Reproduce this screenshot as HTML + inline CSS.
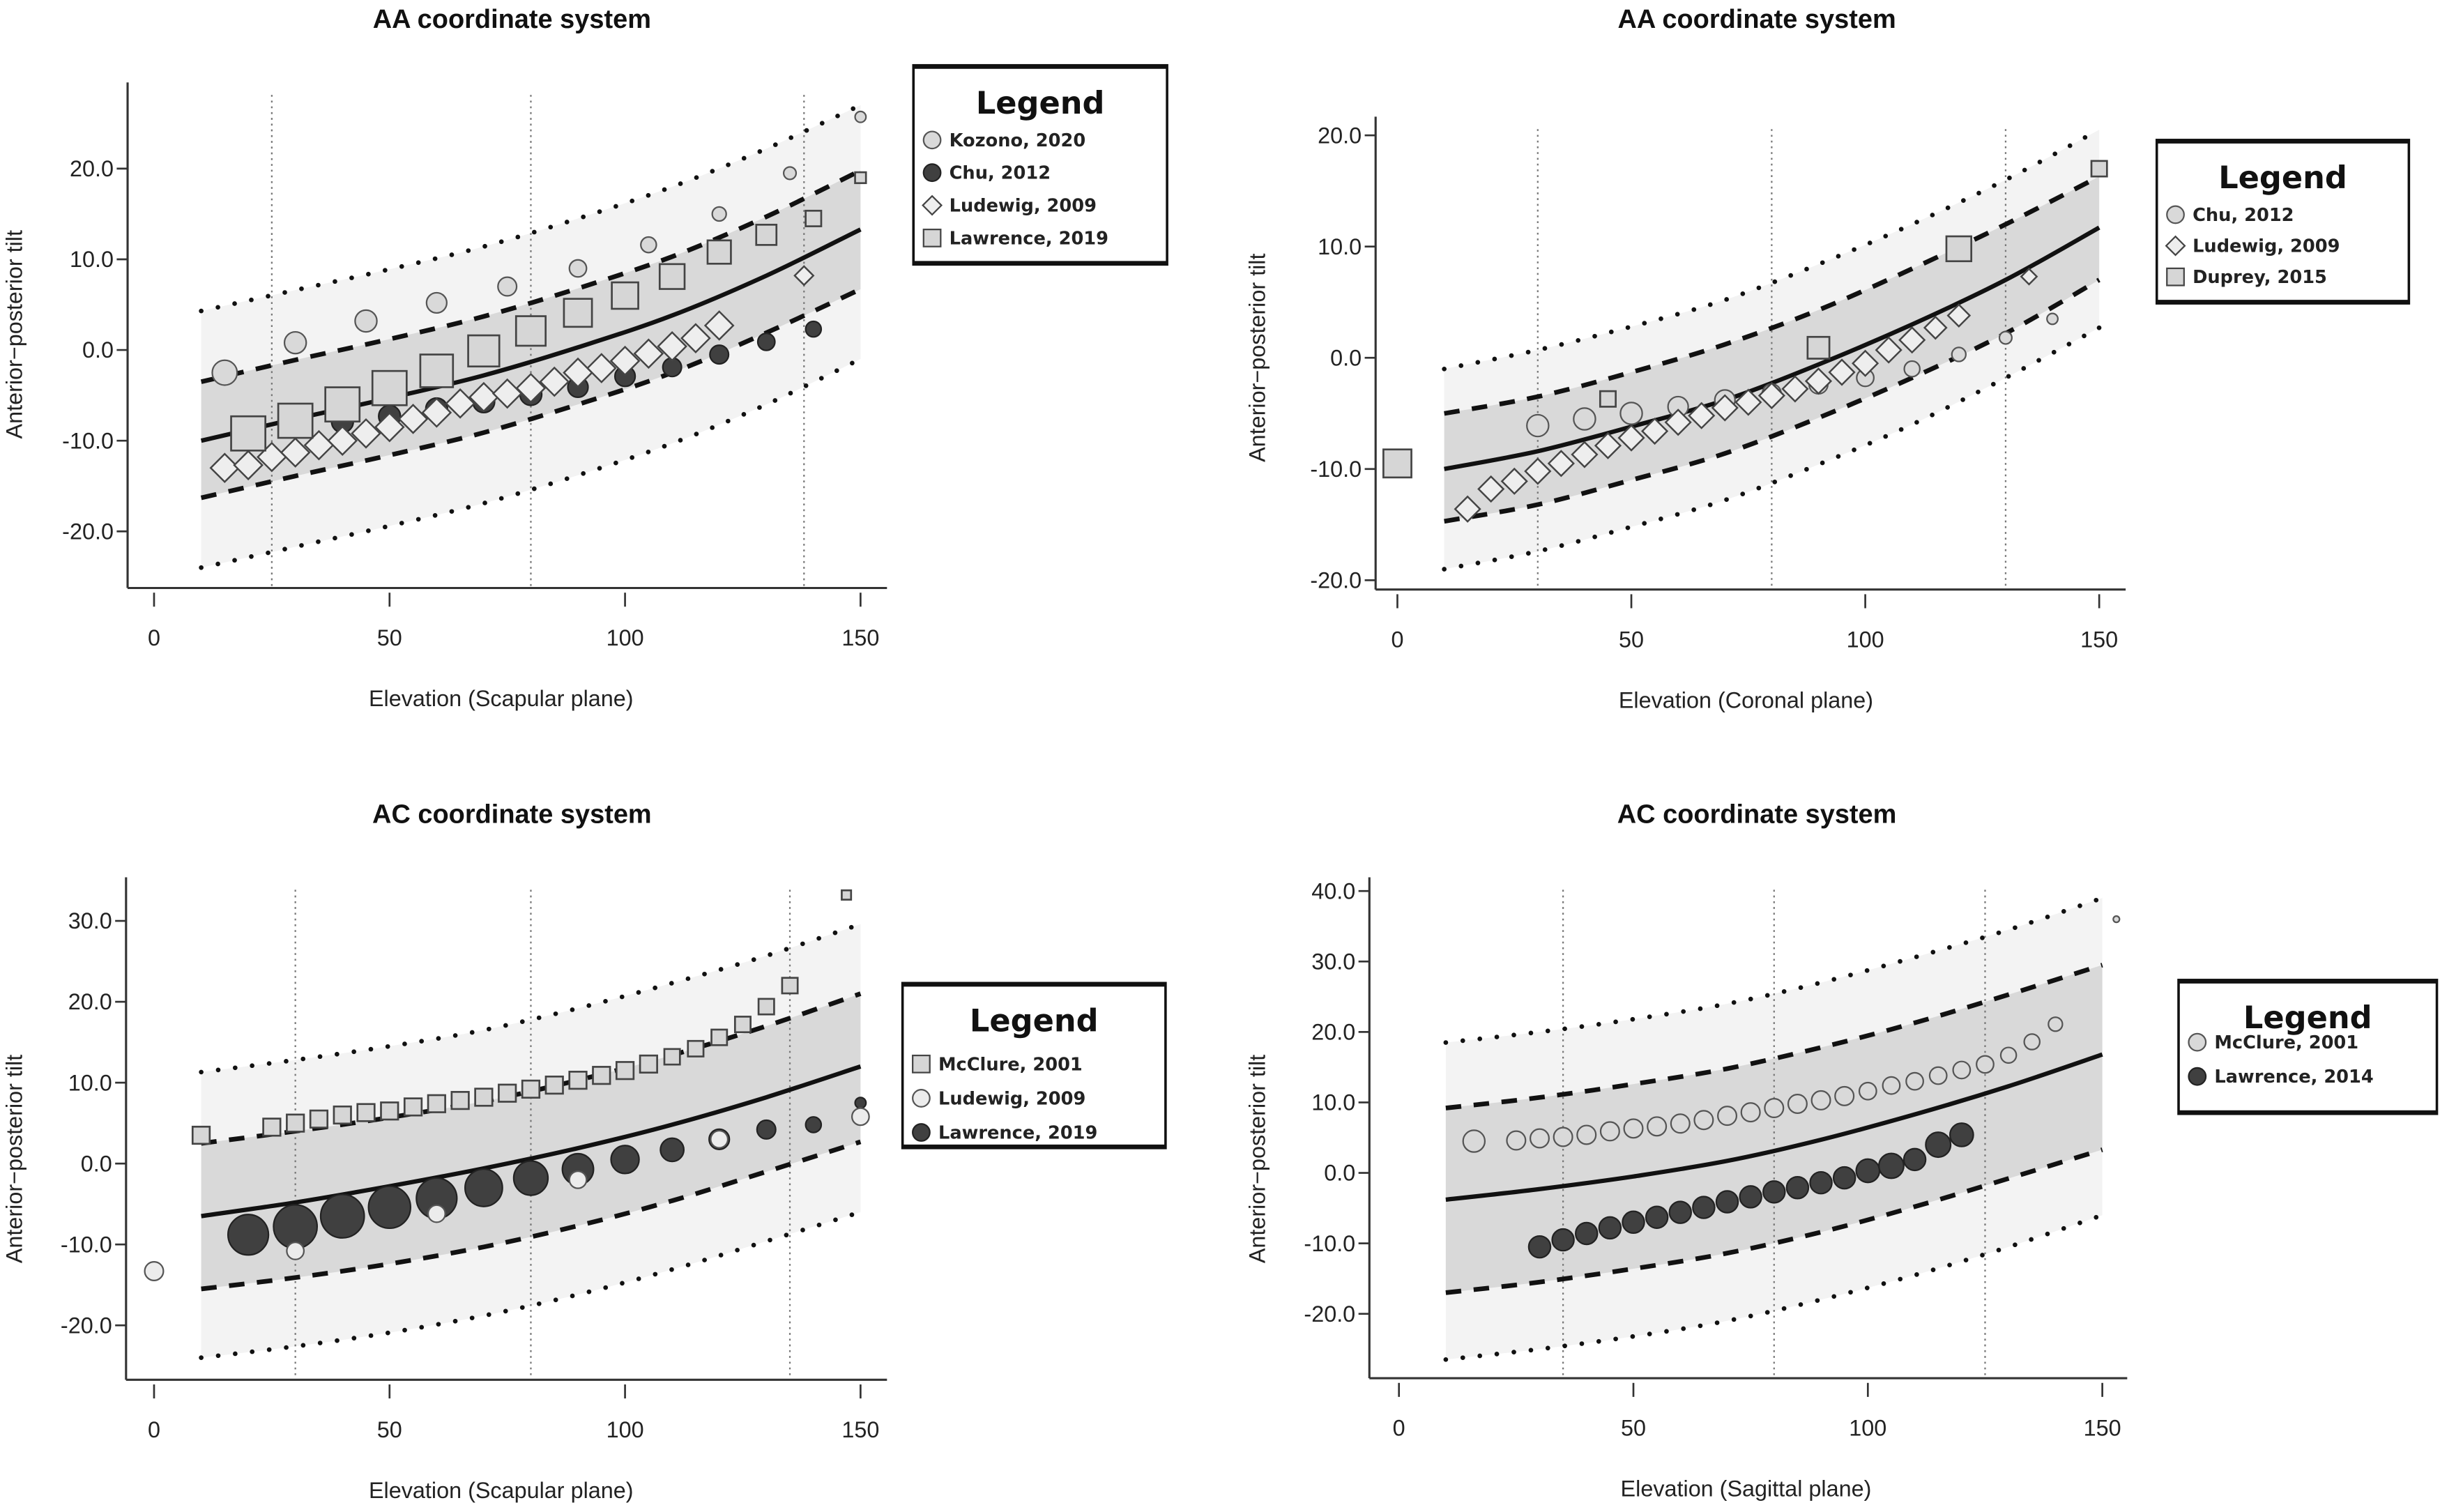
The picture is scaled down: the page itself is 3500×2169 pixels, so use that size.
<!DOCTYPE html>
<html><head><meta charset="utf-8"><style>
html,body{margin:0;padding:0;background:#fff;}
svg{display:block;font-family:"Liberation Sans",sans-serif;}
.t{font-size:14.5px;fill:#222;}
.ttl{font-size:17px;font-weight:bold;fill:#111;}
.lg{font-size:11.5px;font-weight:bold;fill:#222;font-family:"DejaVu Sans",sans-serif;}
.lgt{font-size:20px;font-weight:bold;fill:#111;font-family:"DejaVu Sans",sans-serif;}
</style></head><body>
<svg id="fig" width="3500" height="2169" viewBox="0 0 1568 972" preserveAspectRatio="none" xmlns="http://www.w3.org/2000/svg"></svg>
<script>
// Shared band sample x positions
const bandX = [10,30,50,70,90,110,130,150];

// Panel 1: AA scapular
const p1Mean = [-10,-7.6,-5.3,-2.8,0.3,3.8,8.2,13.3];
const p1DashUp = [-3.5,-1.1,1.2,3.7,6.8,10.3,14.7,19.8];
const p1DashLo = [-16.3,-13.9,-11.6,-9.1,-6,-2.5,1.9,6.7];
const p1DotUp = [4.3,6.6,8.9,11.4,14.5,18,22.2,27];
const p1DotLo = [-24,-21.7,-19.4,-16.9,-13.8,-10.3,-6,-1];
const p1VLines = [25,80,138];
const p1KozX = [15,30,45,60,75,90,105,120,135,150];
const p1KozY = [-2.5,0.8,3.2,5.2,7,9,11.6,15,19.5,25.7];
const p1KozR = [8,7,7,6.5,6,5.5,5,4.5,4,3.5];
const p1ChuX = [30,40,50,60,70,80,90,100,110,120,130,140];
const p1ChuY = [-8.3,-7.9,-7.3,-6.5,-5.7,-4.9,-4.1,-2.9,-1.9,-0.5,0.9,2.3];
const p1ChuR = [7,7,7,7,7,7,6.5,6.5,6,6,5.5,5];
const p1LudX = [15,20,25,30,35,40,45,50,55,60,65,70,75,80,85,90,95,100,105,110,115,120,138];
const p1LudY = [-13,-12.7,-11.8,-11.3,-10.5,-10,-9.2,-8.5,-7.6,-6.9,-5.9,-5.2,-4.8,-4.2,-3.5,-2.5,-2,-1.2,-0.4,0.4,1.3,2.7,8.2];
const p1LudS = [9,9,9,9,9,9,9,9,9,9,9,9,9,9,9,9,9,9,9,9,9,9,6];
const p1LawX = [20,30,40,50,60,70,80,90,100,110,120,130,140,150];
const p1LawY = [-9.2,-7.8,-6,-4.2,-2.3,-0.1,2.1,4.1,6,8.1,10.8,12.7,14.5,19];
const p1LawS = [11,11,11,11,10.5,10,9.5,9,8.5,8,7.5,6.5,5,3.5];

// Panel 2: AA coronal
const p2Mean = [-10,-8.4,-6.2,-3.8,-0.6,3,7,11.7];
const p2DashUp = [-5,-3.5,-1.3,1.2,4.3,8,12,16.3];
const p2DashLo = [-14.7,-13.2,-11,-8.6,-5.4,-1.8,2.2,7];
const p2DotUp = [-1,0.7,2.8,5.2,8.4,12,16,20.5];
const p2DotLo = [-19,-17.4,-15.2,-12.8,-9.6,-6,-1.8,2.7];
const p2VLines = [30,80,130];
const p2ChuX = [30,40,50,60,70,80,90,100,110,120,130,140];
const p2ChuY = [-6.1,-5.5,-5,-4.4,-3.8,-3.2,-2.4,-1.8,-1,0.3,1.8,3.5];
const p2ChuR = [7,7,7,6.5,6.5,6,6,5.5,5,4.5,4,3.5];
const p2LudX = [15,20,25,30,35,40,45,50,55,60,65,70,75,80,85,90,95,100,105,110,115,120,135];
const p2LudY = [-13.6,-11.8,-11.1,-10.2,-9.5,-8.7,-7.9,-7.2,-6.6,-5.8,-5.2,-4.5,-4,-3.4,-2.8,-2.1,-1.3,-0.5,0.7,1.6,2.7,3.8,7.3];
const p2LudS = [8,8,8,8,8,8,8,8,8,8,8,8,8,8,8,8,8,8,8,8,7,7,5];
const p2DupX = [0,45,90,120,150];
const p2DupY = [-9.5,-3.7,0.9,9.8,17];
const p2DupS = [9,5,7,8,5];

// Panel 3: AC scapular
const p3Mean = [-6.5,-4.8,-2.8,-0.6,1.9,4.8,8.2,12];
const p3DashUp = [2.5,4,5.7,7.7,10.3,13.4,17,21];
const p3DashLo = [-15.5,-14.1,-12.4,-10.3,-7.7,-4.6,-1,2.7];
const p3DotUp = [11.3,12.8,14.5,16.5,19.2,22.3,25.7,29.6];
const p3DotLo = [-24,-22.6,-20.9,-18.8,-16.2,-13.1,-9.6,-6];
const p3VLines = [30,80,135];
const p3McX = [10,25,30,35,40,45,50,55,60,65,70,75,80,85,90,95,100,105,110,115,120,125,130,135,147];
const p3McY = [3.5,4.5,5,5.5,6,6.3,6.5,7,7.4,7.8,8.2,8.7,9.2,9.7,10.3,10.9,11.5,12.3,13.2,14.2,15.6,17.2,19.4,22,33.2];
const p3McS = [5.5,5.5,5.5,5.5,5.5,5.5,5.5,5.5,5.5,5.5,5.5,5.5,5.5,5.5,5.5,5.5,5.5,5.5,5,5,5,5,5,5,3];
const p3LudX = [0,30,60,90,120,150];
const p3LudY = [-13.3,-10.8,-6.2,-2,3,5.8];
const p3LudR = [6,5.5,5.5,5.5,5.5,5.5];
const p3LawX = [20,30,40,50,60,70,80,90,100,110,120,130,140,150];
const p3LawY = [-8.8,-7.8,-6.5,-5.4,-4.3,-3,-1.8,-0.7,0.5,1.7,3,4.2,4.8,7.5];
const p3LawR = [13,14,14,13.5,13,12,11,10,9,7.5,6.5,6,5,3.5];

// Panel 4: AC sagittal
const p4Mean = [-3.8,-2.3,-0.5,1.7,4.7,8.3,12.3,16.8];
const p4DashUp = [9.2,10.7,12.6,14.8,17.8,21.3,25.3,29.5];
const p4DashLo = [-17,-15.5,-13.6,-11.4,-8.4,-4.8,-0.8,3.3];
const p4DotUp = [18.5,20,21.8,24,27,30.6,34.5,39];
const p4DotLo = [-26.5,-25,-23.2,-21,-18,-14.5,-10.5,-6];
const p4VLines = [35,80,125];
const p4McX = [16,25,30,35,40,45,50,55,60,65,70,75,80,85,90,95,100,105,110,115,120,125,130,135,140,153];
const p4McY = [4.5,4.6,4.9,5.1,5.4,5.9,6.3,6.6,7,7.5,8.1,8.6,9.2,9.8,10.3,10.9,11.6,12.4,13,13.8,14.6,15.4,16.7,18.6,21.1,36];
const p4McR = [7,6,6,6,6,6,6,6,6,6,6,6,6,6,6,6,5.5,5.5,5.5,5.5,5.5,5.5,5,5,4.5,2];
const p4LawX = [30,35,40,45,50,55,60,65,70,75,80,85,90,95,100,105,110,115,120];
const p4LawY = [-10.5,-9.5,-8.6,-7.8,-7,-6.3,-5.6,-4.9,-4.1,-3.4,-2.7,-2.1,-1.4,-0.7,0.3,1,1.9,4,5.4];
const p4LawR = [7,7,7,7,7,7,7,7,7,7,7,7,7,7,7.5,8,7,8,7.5];

const xTicks = [0,50,100,150];
const NS = 'http://www.w3.org/2000/svg';
const svg = document.getElementById('fig');

function mk(tag, attrs, parent){
  const e = document.createElementNS(NS, tag);
  for (const k in attrs) e.setAttribute(k, attrs[k]);
  (parent||svg).appendChild(e);
  return e;
}
function smooth(p){
  let d = 'M' + p[0][0].toFixed(1) + ',' + p[0][1].toFixed(1);
  for (let i = 0; i < p.length - 1; i++){
    const p0 = p[Math.max(0,i-1)], p1 = p[i], p2 = p[i+1], p3 = p[Math.min(p.length-1,i+2)];
    const c1x = p1[0] + (p2[0]-p0[0])/6, c1y = p1[1] + (p2[1]-p0[1])/6;
    const c2x = p2[0] - (p3[0]-p1[0])/6, c2y = p2[1] - (p3[1]-p1[1])/6;
    d += ` C${c1x.toFixed(1)},${c1y.toFixed(1)} ${c2x.toFixed(1)},${c2y.toFixed(1)} ${p2[0].toFixed(1)},${p2[1].toFixed(1)}`;
  }
  return d;
}

function panel(cfg){
  const g = mk('g', {});
  
  
  const X = v => cfg.x0 + (cfg.x150 - cfg.x0) * v / 150;
  const Y = v => cfg.yZero - v * cfg.ppu;
  const pp = arr => bandX.map((x,i)=>[X(x), Y(arr[i])]);
  const rev = p => p.slice().reverse();
  const areaPath = (up, lo) => {
    const a = pp(up), b = rev(pp(lo));
    return smooth(a) + ' L' + b[0][0].toFixed(1) + ',' + b[0][1].toFixed(1) + smooth(b).replace(/^M[^C]*/, ' ') + ' Z';
  };
  const outer = mk('path', {d: areaPath(cfg.dotUp, cfg.dotLo), fill:'#f3f3f3'}, g);
  
  
  const inner = mk('path', {d: areaPath(cfg.dashUp, cfg.dashLo), fill:'#d9d9d9'}, g);
  
  
  cfg.vlines.forEach(v=>{
    const l = mk('line', {x1:X(v), x2:X(v), y1:cfg.top+8, y2:cfg.bottom, stroke:'#777', 'stroke-width':1, 'stroke-dasharray':'1.2,2.5'}, g);
    
    
  });
  const ln = (arr, name, extra) => {
    const p = mk('path', Object.assign({d: smooth(pp(arr)), fill:'none', stroke:'#111', 'stroke-width':2.6}, extra), g);
    
    
  };
  ln(cfg.dotUp, 'upper-dotted-line', {'stroke-dasharray':'0,11','stroke-linecap':'round','stroke-width':3});
  ln(cfg.dotLo, 'lower-dotted-line', {'stroke-dasharray':'0,11','stroke-linecap':'round','stroke-width':3});
  ln(cfg.dashUp, 'upper-dashed-line', {'stroke-dasharray':'10,8','stroke-width':3});
  ln(cfg.dashLo, 'lower-dashed-line', {'stroke-dasharray':'10,8','stroke-width':3});
  ln(cfg.mean, 'mean-line', {'stroke-width':2.8});
  const order = cfg.drawOrder || cfg.series.map((s,i)=>i);
  order.forEach(idx=>{
    const s = cfg.series[idx];
    s.x.forEach((xv,i)=>{
      const cx = X(xv), cy = Y(s.y[i]), r = s.s[i];
      let m;
      if (s.shape==='circle') m = mk('circle', {cx, cy, r, fill:s.fill, stroke:s.stroke, 'stroke-width':1}, g);
      else if (s.shape==='square') m = mk('rect', {x:cx-r, y:cy-r, width:2*r, height:2*r, fill:s.fill, stroke:s.stroke, 'stroke-width':1.2}, g);
      else m = mk('polygon', {points:`${cx},${cy-r} ${cx+r},${cy} ${cx},${cy+r} ${cx-r},${cy}`, fill:s.fill, stroke:s.stroke, 'stroke-width':1.1}, g);
      
      
    });
  });
  const ya = mk('line', {x1:cfg.ax, x2:cfg.ax, y1:cfg.top, y2:cfg.bottom, stroke:'#333', 'stroke-width':1.4}, g);
  
  
  const xa = mk('line', {x1:cfg.ax, x2:cfg.right, y1:cfg.bottom, y2:cfg.bottom, stroke:'#333', 'stroke-width':1.4}, g);
  
  
  xTicks.forEach(v=>{
    mk('line', {x1:X(v), x2:X(v), y1:cfg.bottom+3, y2:cfg.bottom+12, stroke:'#333', 'stroke-width':1.2}, g);
    const t = mk('text', {x:X(v), y:cfg.bottom+37, 'text-anchor':'middle', class:'t'}, g);
    t.textContent = v;
    
    
  });
  cfg.yTicks.forEach(v=>{
    mk('line', {x1:cfg.ax-7, x2:cfg.ax, y1:Y(v), y2:Y(v), stroke:'#333', 'stroke-width':1.2}, g);
    const t = mk('text', {x:cfg.ax-9, y:Y(v)+5, 'text-anchor':'end', class:'t'}, g);
    t.textContent = v.toFixed(1);
    
    
  });
  const tt = mk('text', {x:cfg.titleX, y:cfg.titleY, 'text-anchor':'middle', class:'ttl'}, g);
  tt.textContent = cfg.title;
  
  
  const xl = mk('text', {x:cfg.titleX-7, y:cfg.bottom+76, 'text-anchor':'middle', class:'t'}, g);
  xl.textContent = cfg.xlabel;
  
  
  const yl = mk('text', {x:0, y:0, 'text-anchor':'middle', class:'t', transform:`translate(${cfg.ylx},${cfg.yly}) rotate(-90)`}, g);
  yl.textContent = 'Anterior\u2212posterior tilt';
  
  
  const L = cfg.legend;
  const lg = mk('g', {}, g);
  
  
  mk('rect', {x:L.x, y:L.y, width:L.w, height:L.h, fill:'#fff', stroke:'#111', 'stroke-width':1.6}, lg);
  mk('line', {x1:L.x, x2:L.x+L.w, y1:L.y+1, y2:L.y+1, stroke:'#111', 'stroke-width':2.5}, lg);
  mk('line', {x1:L.x, x2:L.x+L.w, y1:L.y+L.h-1, y2:L.y+L.h-1, stroke:'#111', 'stroke-width':2.5}, lg);
  const lt = mk('text', {x:L.x+L.w/2, y:L.y+31, 'text-anchor':'middle', class:'lgt'}, lg);
  lt.textContent = 'Legend';
  cfg.series.forEach((s,i)=>{
    const cy = L.y + L.first + i*L.step, cx = L.x+12, r = 5.5;
    if (s.shape==='circle') mk('circle', {cx, cy, r, fill:s.fill, stroke:s.stroke, 'stroke-width':1}, lg);
    else if (s.shape==='square') mk('rect', {x:cx-r, y:cy-r, width:2*r, height:2*r, fill:s.fill, stroke:s.stroke, 'stroke-width':1}, lg);
    else mk('polygon', {points:`${cx},${cy-6} ${cx+6},${cy} ${cx},${cy+6} ${cx-6},${cy}`, fill:s.fill, stroke:s.stroke, 'stroke-width':1}, lg);
    const et = mk('text', {x:cx+11, y:cy+4, class:'lg'}, lg);
    et.textContent = s.label;
    
    
  });
}

const LIGHT = {fill:'#d9d9d9', stroke:'#555'};
const WHITE = {fill:'#ececec', stroke:'#555'};
const DARK = {fill:'#404040', stroke:'#222'};
const DIA = {fill:'#eeeeee', stroke:'#444'};
const SQ = {fill:'#d6d6d6', stroke:'#444'};

panel({name:'panel-aa-scapular', title:'AA coordinate system', titleX:329, titleY:18, xlabel:'Elevation (Scapular plane)',
  x0:99, x150:553, yZero:225, ppu:5.83, ax:82, top:53, bottom:378, right:570, ylx:14, yly:215,
  yTicks:[-20,-10,0,10,20], vlines:p1VLines,
  mean:p1Mean, dashUp:p1DashUp, dashLo:p1DashLo, dotUp:p1DotUp, dotLo:p1DotLo,
  legend:{x:587, y:42, w:163, h:128, first:48, step:21},
  series:[
    Object.assign({key:'kozono-2020', label:'Kozono, 2020', shape:'circle', x:p1KozX, y:p1KozY, s:p1KozR}, LIGHT),
    Object.assign({key:'chu-2012', label:'Chu, 2012', shape:'circle', x:p1ChuX, y:p1ChuY, s:p1ChuR}, DARK),
    Object.assign({key:'ludewig-2009', label:'Ludewig, 2009', shape:'diamond', x:p1LudX, y:p1LudY, s:p1LudS}, DIA),
    Object.assign({key:'lawrence-2019', label:'Lawrence, 2019', shape:'square', x:p1LawX, y:p1LawY, s:p1LawS}, SQ)
  ]});

panel({name:'panel-aa-coronal', title:'AA coordinate system', titleX:1129, titleY:18, xlabel:'Elevation (Coronal plane)',
  x0:898, x150:1349, yZero:230, ppu:7.15, ax:884, top:75, bottom:379, right:1366, ylx:813, yly:230,
  yTicks:[-20,-10,0,10,20], vlines:p2VLines,
  mean:p2Mean, dashUp:p2DashUp, dashLo:p2DashLo, dotUp:p2DotUp, dotLo:p2DotLo,
  legend:{x:1386, y:90, w:162, h:105, first:48, step:20},
  series:[
    Object.assign({key:'chu-2012', label:'Chu, 2012', shape:'circle', x:p2ChuX, y:p2ChuY, s:p2ChuR}, LIGHT),
    Object.assign({key:'ludewig-2009', label:'Ludewig, 2009', shape:'diamond', x:p2LudX, y:p2LudY, s:p2LudS}, DIA),
    Object.assign({key:'duprey-2015', label:'Duprey, 2015', shape:'square', x:p2DupX, y:p2DupY, s:p2DupS}, SQ)
  ]});

panel({name:'panel-ac-scapular', title:'AC coordinate system', titleX:329, titleY:529, xlabel:'Elevation (Scapular plane)',
  x0:99, x150:553, yZero:748, ppu:5.2, ax:81, top:564, bottom:887, right:570, ylx:14, yly:745,
  yTicks:[-20,-10,0,10,20,30], vlines:p3VLines,
  mean:p3Mean, dashUp:p3DashUp, dashLo:p3DashLo, dotUp:p3DotUp, dotLo:p3DotLo,
  legend:{x:580, y:632, w:169, h:106, first:52, step:22},
  drawOrder:[0,2,1],
  series:[
    Object.assign({key:'mcclure-2001', label:'McClure, 2001', shape:'square', x:p3McX, y:p3McY, s:p3McS}, SQ),
    Object.assign({key:'ludewig-2009', label:'Ludewig, 2009', shape:'circle', x:p3LudX, y:p3LudY, s:p3LudR}, WHITE),
    Object.assign({key:'lawrence-2019', label:'Lawrence, 2019', shape:'circle', x:p3LawX, y:p3LawY, s:p3LawR}, DARK)
  ]});

panel({name:'panel-ac-sagittal', title:'AC coordinate system', titleX:1129, titleY:529, xlabel:'Elevation (Sagittal plane)',
  x0:899, x150:1351, yZero:754, ppu:4.53, ax:880, top:564, bottom:886, right:1367, ylx:813, yly:745,
  yTicks:[-20,-10,0,10,20,30,40], vlines:p4VLines,
  mean:p4Mean, dashUp:p4DashUp, dashLo:p4DashLo, dotUp:p4DotUp, dotLo:p4DotLo,
  legend:{x:1400, y:630, w:166, h:86, first:40, step:22},
  series:[
    Object.assign({key:'mcclure-2001', label:'McClure, 2001', shape:'circle', x:p4McX, y:p4McY, s:p4McR}, LIGHT),
    Object.assign({key:'lawrence-2014', label:'Lawrence, 2014', shape:'circle', x:p4LawX, y:p4LawY, s:p4LawR}, DARK)
  ]});
</script>
</body></html>
